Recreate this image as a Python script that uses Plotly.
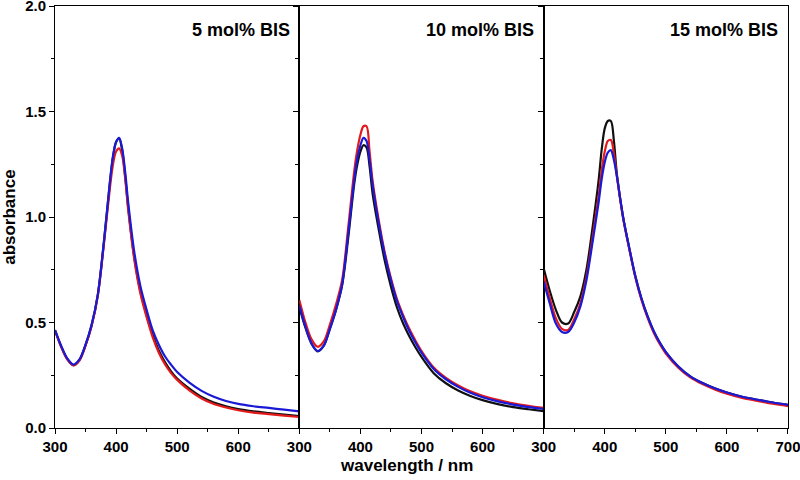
import plotly.graph_objects as go

wavelength = [300, 310, 320, 330, 340, 350, 360, 370, 380, 390, 395, 400, 405, 410, 415, 420,
              430, 440, 450, 460, 470, 480, 490, 500, 520, 540, 560, 580, 600, 625, 650, 675, 700]

panel_titles = ["5 mol% BIS", "10 mol% BIS", "15 mol% BIS"]

bis5_black = [0.463, 0.387, 0.327, 0.298, 0.322, 0.393, 0.487, 0.630, 0.880, 1.165, 1.285, 1.355, 1.372, 1.315, 1.190, 1.040,
              0.805, 0.645, 0.535, 0.440, 0.367, 0.312, 0.268, 0.234, 0.186, 0.147, 0.121, 0.103, 0.090, 0.079, 0.071, 0.064, 0.057]
bis5_red = [0.460, 0.385, 0.325, 0.297, 0.320, 0.390, 0.485, 0.625, 0.870, 1.140, 1.250, 1.310, 1.325, 1.290, 1.180, 1.030,
            0.795, 0.635, 0.525, 0.430, 0.357, 0.302, 0.260, 0.228, 0.178, 0.140, 0.114, 0.097, 0.084, 0.073, 0.066, 0.059, 0.052]
bis5_blue = [0.465, 0.390, 0.330, 0.300, 0.325, 0.395, 0.490, 0.630, 0.880, 1.170, 1.290, 1.355, 1.375, 1.325, 1.210, 1.065,
             0.830, 0.670, 0.560, 0.463, 0.395, 0.340, 0.300, 0.265, 0.215, 0.176, 0.148, 0.128, 0.114, 0.103, 0.095, 0.087, 0.079]

bis10_black = [0.575, 0.475, 0.400, 0.363, 0.390, 0.470, 0.560, 0.675, 0.900, 1.160, 1.250, 1.310, 1.340, 1.330, 1.240, 1.110,
               0.940, 0.790, 0.670, 0.570, 0.495, 0.435, 0.383, 0.337, 0.260, 0.212, 0.178, 0.152, 0.132, 0.113, 0.099, 0.089, 0.080]
bis10_red = [0.607, 0.500, 0.420, 0.385, 0.410, 0.490, 0.585, 0.700, 0.950, 1.220, 1.320, 1.390, 1.430, 1.430, 1.310, 1.170,
             0.985, 0.830, 0.710, 0.610, 0.535, 0.470, 0.415, 0.365, 0.287, 0.238, 0.202, 0.174, 0.153, 0.133, 0.117, 0.105, 0.095]
bis10_blue = [0.580, 0.480, 0.400, 0.365, 0.390, 0.470, 0.560, 0.680, 0.920, 1.180, 1.280, 1.340, 1.375, 1.360, 1.270, 1.150,
              0.970, 0.820, 0.700, 0.600, 0.525, 0.460, 0.405, 0.357, 0.280, 0.231, 0.195, 0.167, 0.146, 0.126, 0.111, 0.099, 0.090]

bis15_black = [0.757, 0.650, 0.560, 0.500, 0.495, 0.550, 0.623, 0.750, 0.950, 1.175, 1.320, 1.420, 1.455, 1.455, 1.360, 1.200,
               1.000, 0.855, 0.720, 0.615, 0.530, 0.460, 0.405, 0.360, 0.293, 0.245, 0.213, 0.188, 0.168, 0.148, 0.134, 0.121, 0.110]
bis15_red = [0.725, 0.615, 0.520, 0.470, 0.465, 0.515, 0.590, 0.715, 0.900, 1.100, 1.220, 1.310, 1.360, 1.365, 1.300, 1.190,
             0.995, 0.850, 0.715, 0.608, 0.523, 0.453, 0.398, 0.353, 0.287, 0.240, 0.208, 0.183, 0.162, 0.142, 0.128, 0.115, 0.104]
bis15_blue = [0.694, 0.590, 0.495, 0.455, 0.455, 0.500, 0.575, 0.700, 0.880, 1.070, 1.180, 1.260, 1.305, 1.317, 1.270, 1.190,
              1.000, 0.855, 0.720, 0.615, 0.530, 0.460, 0.405, 0.360, 0.293, 0.245, 0.213, 0.188, 0.168, 0.148, 0.134, 0.121, 0.110]

panels = [
    (bis5_black, bis5_red, bis5_blue),
    (bis10_black, bis10_red, bis10_blue),
    (bis15_black, bis15_red, bis15_blue),
]
colors = ["#111111", "#e3191c", "#1a1ad6"]

x_ticks_inner = [300, 400, 500, 600]
x_ticks_last = [300, 400, 500, 600, 700]
y_ticks = [0.0, 0.5, 1.0, 1.5, 2.0]

FONT = "Liberation Sans, Arial, sans-serif"

fig = go.Figure()
for i, series in enumerate(panels):
    xa = "x" if i == 0 else f"x{i+1}"
    ya = "y" if i == 0 else f"y{i+1}"
    for vals, col in zip(series, colors):
        fig.add_trace(go.Scatter(x=wavelength, y=vals, mode="lines", xaxis=xa, yaxis=ya,
                                 line=dict(color=col, width=2.2, shape="spline", smoothing=0.9),
                                 showlegend=False, hoverinfo="skip"))

domains = [[0, 1/3], [1/3, 2/3], [2/3, 1]]
layout = dict(
    width=800, height=480,
    margin=dict(l=55, r=12, t=6, b=52, autoexpand=False),
    paper_bgcolor="white", plot_bgcolor="white",
    font=dict(family=FONT, color="black"),
    showlegend=False,
)
for i in range(3):
    xk = "xaxis" if i == 0 else f"xaxis{i+1}"
    yk = "yaxis" if i == 0 else f"yaxis{i+1}"
    yref = "y" if i == 0 else f"y{i+1}"
    xref = "x" if i == 0 else f"x{i+1}"
    tv = x_ticks_last if i == 2 else x_ticks_inner
    layout[xk] = dict(domain=domains[i], range=[300, 700], anchor=yref,
                      tickvals=tv, ticktext=[str(v) for v in tv],
                      ticks="outside", ticklen=5, tickwidth=1, tickcolor="black",
                      minor=dict(tickvals=[350, 450, 550, 650], ticks="outside", ticklen=3, tickcolor="black"),
                      showline=True, linecolor="black", linewidth=1, mirror=True,
                      showgrid=False, zeroline=False, automargin=False,
                      ticklabeloverflow="allow",
                      tickfont=dict(size=15, family=FONT, weight="bold"))
    layout[yk] = dict(range=[0, 2.0], anchor=xref, domain=[0, 1],
                      tickvals=y_ticks, ticktext=["0.0", "0.5", "1.0", "1.5", "2.0"],
                      showticklabels=(i == 0),
                      ticks="outside", ticklen=5, tickwidth=1, tickcolor="black",
                      minor=dict(tickvals=[0.25, 0.75, 1.25, 1.75], ticks="outside", ticklen=3, tickcolor="black"),
                      showline=True, linecolor="black", linewidth=1, mirror=True,
                      showgrid=False, zeroline=False, automargin=False,
                      ticklabeloverflow="allow",
                      tickfont=dict(size=15, family=FONT, weight="bold"))
    if i > 0:
        layout[yk]["matches"] = "y"

fig.update_layout(**layout)

for i, title in enumerate(panel_titles):
    xd = "x domain" if i == 0 else f"x{i+1} domain"
    fig.add_annotation(text=title, xref=xd, yref="paper", x=0.968, y=0.943,
                       xanchor="right", yanchor="middle", showarrow=False,
                       font=dict(size=18, family=FONT, weight="bold", color="black"))

fig.add_annotation(text="wavelength / nm", xref="paper", yref="paper", x=0.48, y=-0.088,
                   xanchor="center", yanchor="middle", showarrow=False,
                   font=dict(size=17, family=FONT, weight="bold", color="black"))
fig.add_annotation(text="absorbance", xref="paper", yref="paper", x=-0.063, y=0.5,
                   xanchor="center", yanchor="middle", textangle=-90, showarrow=False,
                   font=dict(size=17, family=FONT, weight="bold", color="black"))

fig.write_html("out.html", config={"displayModeBar": False},
               post_script="document.body.style.margin='0';document.body.style.overflow='hidden';")
